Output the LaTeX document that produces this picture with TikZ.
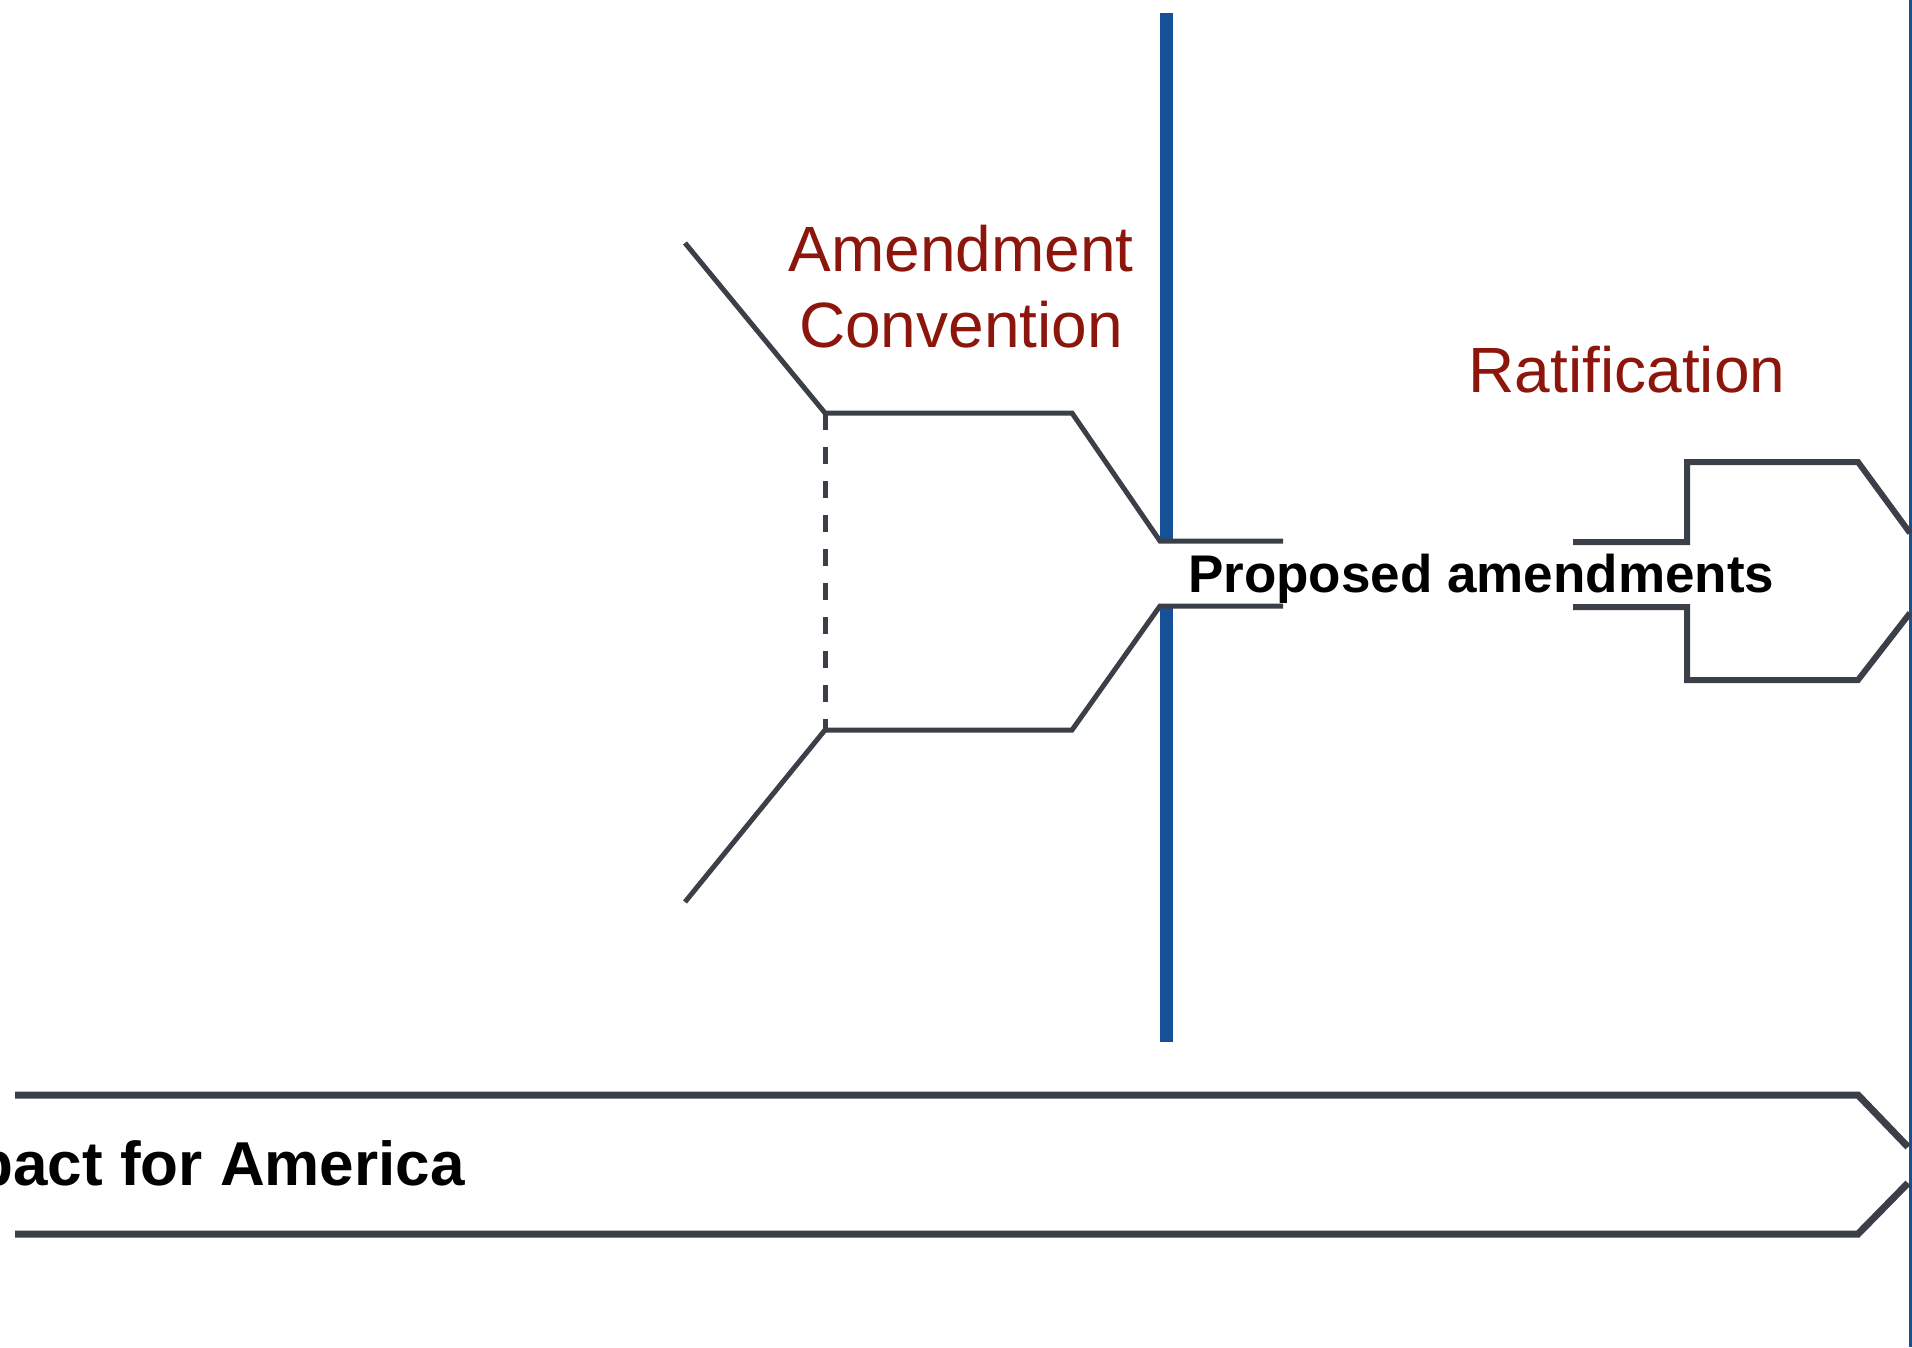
\documentclass[tikz,border=0pt]{standalone}
\usepackage{fontspec}
\setmainfont{Liberation Sans}
\usepackage{tikz}
\usetikzlibrary{positioning}
\definecolor{amendred}{RGB}{140,22,12}
\definecolor{stageblue}{RGB}{22,80,150}
\definecolor{flowgray}{RGB}{58,63,72}

\begin{document}
\begin{tikzpicture}
[x=1pt,y=-1pt,line join=miter,inner sep=0pt,node distance=76pt]\tikzstyle{flow}
=[draw=flowgray,line width=5pt]
\tikzstyle{band}=[draw=flowgray,line width=7pt]
\tikzstyle{barrier}=[draw=stageblue,line width=13pt]
\tikzstyle{stage}=[text=amendred,font=\fontsize{64}{76}\selectfont]
\tikzstyle{boldtext}=[text=black,font=\bfseries\fontsize{53}{60}\selectfont]
\useasboundingbox (0,0) rectangle (1912,1347);

\coordinate (intop) at (685,243);
\coordinate (inbot) at (685,902);
\coordinate (joint) at (825,413);
\coordinate (joinb) at (825,730);
\coordinate (bendt) at (1072,413);
\coordinate (bendb) at (1072,730);
\coordinate (gatet) at (1160,541);
\coordinate (gateb) at (1160,606);
\coordinate (outt) at (1283,541);
\coordinate (outb) at (1283,606);

\coordinate (bartop) at (1166,13);
\coordinate (barmidt) at (1166,541);
\coordinate (barmidb) at (1166,606);
\coordinate (barbot) at (1166,1042);
\coordinate (edgetop) at (1910,0);
\coordinate (edgebot) at (1910,1347);

\coordinate (rint) at (1573,542);
\coordinate (rinb) at (1573,607);
\coordinate (rstept) at (1687,542);
\coordinate (rstepb) at (1687,607);
\coordinate (rtopl) at (1687,462);
\coordinate (rbotl) at (1687,680);
\coordinate (rtopr) at (1858,462);
\coordinate (rbotr) at (1858,680);
\coordinate (rtipt) at (1910,533);
\coordinate (rtipb) at (1910,613);

\coordinate (bandtl) at (15,1095);
\coordinate (bandbl) at (15,1234);
\coordinate (bandtr) at (1858,1095);
\coordinate (bandbr) at (1858,1234);
\coordinate (bandtipt) at (1908,1147);
\coordinate (bandtipb) at (1908,1183);

\node[stage,anchor=base] (amend) at (961,271) {Amendment};
\node[stage] (conv) [below of=amend] {Convention};
\node[stage,anchor=base] (ratif) at (1627,392) {Ratification};

\path[barrier] (bartop) -- (barmidt) (barmidb) -- (barbot);
\path[draw=stageblue,line width=3pt] (edgetop) -- (edgebot);

\path[flow] (intop) -- (joint) -- (bendt) -- (gatet) -- (outt);
\path[flow] (inbot) -- (joinb) -- (bendb) -- (gateb) -- (outb);
\path[flow,dash pattern=on 17pt off 17pt] (joint) -- (joinb);

\path[flow,line width=6pt] (rint) -- (rstept) -- (rtopl) -- (rtopr) -- (rtipt);
\path[flow,line width=6pt] (rinb) -- (rstepb) -- (rbotl) -- (rbotr) -- (rtipb);

\path[band] (bandtl) -- (bandtr) -- (bandtipt);
\path[band] (bandbl) -- (bandbr) -- (bandtipb);

\node[boldtext,anchor=base west] (prop) at (1188,592) {Proposed amendments};
\node[boldtext,font=\bfseries\fontsize{62}{70}\selectfont,anchor=base east] (compact) at (465,1185) {pact for America};
\end{tikzpicture}
\end{document}
